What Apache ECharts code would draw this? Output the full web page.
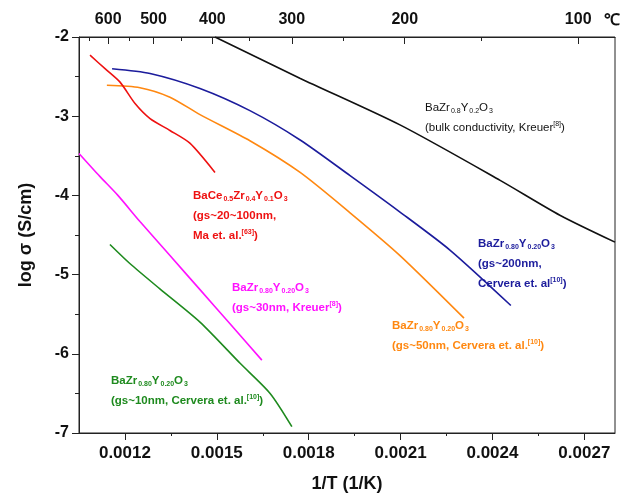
<!DOCTYPE html>
<html>
<head>
<meta charset="utf-8">
<script src="https://cdn.jsdelivr.net/npm/echarts@6/dist/echarts.min.js"></script>
<style>
  html, body { margin: 0; padding: 0; background: #fff; }
  #chart { width: 626px; height: 498px; }
</style>
</head>
<body>
<div id="chart"></div>
<script>
// x = 1/T (1/K), y = log sigma (S/cm)
const bulkKreuer = [[0.001494, -2.0], [0.001771, -2.52], [0.002098, -3.11], [0.002425, -3.81], [0.00262, -4.25], [0.0028, -4.59]];
const bzy200nm = [[0.001158, -2.40], [0.001282, -2.46], [0.001445, -2.65], [0.001608, -2.93], [0.001772, -3.30], [0.001935, -3.75], [0.002098, -4.21], [0.002261, -4.69], [0.00246, -5.39]];
const bzy50nm = [[0.001141, -2.61], [0.001249, -2.64], [0.001347, -2.76], [0.001445, -2.98], [0.001608, -3.31], [0.001772, -3.71], [0.001935, -4.22], [0.002098, -4.76], [0.002307, -5.55]];
const bczy = [[0.001086, -2.23], [0.001135, -2.40], [0.001184, -2.57], [0.001233, -2.84], [0.001282, -3.03], [0.001347, -3.18], [0.001412, -3.34], [0.001494, -3.71]];
const bzy30nm = [[0.00105, -3.47], [0.001118, -3.76], [0.001177, -4.0], [0.001249, -4.33], [0.001347, -4.76], [0.001445, -5.19], [0.001543, -5.62], [0.001647, -6.08]];
const bzy10nm = [[0.001151, -4.62], [0.001216, -4.86], [0.001314, -5.18], [0.001445, -5.60], [0.001576, -6.12], [0.001674, -6.50], [0.001745, -6.92]];

const xTicks = [0.0012, 0.0015, 0.0018, 0.0021, 0.0024, 0.0027];
const xMinorTicks = [0.00135, 0.00165, 0.00195, 0.00225, 0.00255];
const celsiusTicks = [600, 500, 400, 300, 200, 100];
const celsiusMinor = [650, 550, 450, 350, 250, 150];

const toInvK = c => 1 / (c + 273.15);

const FONT = 'Liberation Sans';

let myChart = echarts.init(document.getElementById('chart'));

// rich text for chemical formulas (graphic text uses fill)
function rich(color, bold) {
  let w = bold ? 'bold' : 'normal';
  return {
    n: { fontFamily: FONT, fontSize: 11.5, fontWeight: w, fill: color, lineHeight: 20 },
    s: { fontFamily: FONT, fontSize: 7, fontWeight: w, fill: color, padding: [8, 0, 0, 1], lineHeight: 20 },
    u: { fontFamily: FONT, fontSize: 7, fontWeight: w, fill: color, padding: [0, 0, 7, 0], lineHeight: 20 }
  };
}
function label(x, y, text, color, bold) {
  return {
    type: 'text', left: x, top: y, z: 100,
    style: { text: text, fill: color, rich: rich(color, bold) }
  };
}

const axisLineStyle = { color: '#222', width: 1 };
const tickFont = { fontFamily: FONT, fontSize: 16, fontWeight: 'bold', color: '#111' };

function curve(name, data, color) {
  return {
    name: name, type: 'line', data: data,
    smooth: 0.25, showSymbol: false,
    lineStyle: { color: color, width: 1.6 }
  };
}

myChart.setOption({
  animation: false,
  grid: {
    left: 79, right: 11, top: 37, bottom: 65,
    show: true, borderColor: '#222', borderWidth: 1
  },
  xAxis: [{
    type: 'value',
    min: 0.00105,
    max: 0.0028,
    position: 'bottom',
    name: '1/T (1/K)',
    nameLocation: 'middle',
    nameGap: 42,
    nameTextStyle: { fontFamily: FONT, fontSize: 18, fontWeight: 'bold', color: '#111' },
    axisLine: { show: true, lineStyle: axisLineStyle },
    axisTick: { show: true, length: 7, lineStyle: axisLineStyle, customValues: xTicks },
    axisLabel: {
      ...tickFont, fontSize: 17, margin: 12, customValues: xTicks,
      formatter: v => v.toFixed(4)
    },
    splitLine: { show: false }
  }, {
    type: 'value',
    min: 0.00105,
    max: 0.0028,
    position: 'bottom',
    axisLine: { show: false },
    axisTick: { show: true, length: 3, lineStyle: axisLineStyle, customValues: xMinorTicks },
    axisLabel: { show: false },
    splitLine: { show: false }
  }, {
    type: 'value',
    min: 0.00105,
    max: 0.0028,
    position: 'top',
    axisLine: { show: true, lineStyle: axisLineStyle },
    axisTick: { show: true, inside: true, length: 7, lineStyle: axisLineStyle, customValues: celsiusTicks.map(toInvK) },
    axisLabel: {
      ...tickFont, margin: 9, customValues: celsiusTicks.map(toInvK),
      formatter: v => String(Math.round(1 / v - 273.15))
    },
    splitLine: { show: false }
  }, {
    type: 'value',
    min: 0.00105,
    max: 0.0028,
    position: 'top',
    axisLine: { show: false },
    axisTick: { show: true, inside: true, length: 4, lineStyle: axisLineStyle, customValues: celsiusMinor.map(toInvK) },
    axisLabel: { show: false },
    splitLine: { show: false }
  }],
  yAxis: {
    type: 'value',
    min: -7,
    max: -2,
    interval: 1,
    name: 'log σ (S/cm)',
    nameLocation: 'middle',
    nameGap: 44,
    nameRotate: 90,
    nameTextStyle: { fontFamily: FONT, fontSize: 18, fontWeight: 'bold', color: '#111' },
    axisLine: { show: true, lineStyle: axisLineStyle },
    axisTick: { show: true, length: 7, lineStyle: axisLineStyle },
    minorTick: { show: true, splitNumber: 2, length: 4, lineStyle: axisLineStyle },
    axisLabel: { ...tickFont, margin: 10 },
    splitLine: { show: false }
  },
  graphic: [
    { type: 'text', left: 604, top: 13, style: { text: '℃', fontFamily: FONT, fontSize: 16, fontWeight: 'bold', fill: '#111' } },
    label(425, 100, '{n|BaZr}{s|0.8}{n|Y}{s|0.2}{n|O}{s|3}\n{n|(bulk conductivity, Kreuer}{u|[8]}{n|)}', '#111', false),
    label(193, 188, '{n|BaCe}{s|0.5}{n|Zr}{s|0.4}{n|Y}{s|0.1}{n|O}{s|3}\n{n|(gs~20~100nm,}\n{n|Ma et. al.}{u|[63]}{n|)}', '#ee1111', true),
    label(478, 236, '{n|BaZr}{s|0.80}{n|Y}{s|0.20}{n|O}{s|3}\n{n|(gs~200nm,}\n{n|Cervera et. al}{u|[10]}{n|)}', '#1c1c9c', true),
    label(232, 280, '{n|BaZr}{s|0.80}{n|Y}{s|0.20}{n|O}{s|3}\n{n|(gs~30nm, Kreuer}{u|[8]}{n|)}', '#ff11ff', true),
    label(392, 318, '{n|BaZr}{s|0.80}{n|Y}{s|0.20}{n|O}{s|3}\n{n|(gs~50nm, Cervera et. al.}{u|[10]}{n|)}', '#ff8811', true),
    label(111, 373, '{n|BaZr}{s|0.80}{n|Y}{s|0.20}{n|O}{s|3}\n{n|(gs~10nm, Cervera et. al.}{u|[10]}{n|)}', '#1e8a1e', true)
  ],
  series: [
    curve('bulk', bulkKreuer, '#111'),
    curve('200nm', bzy200nm, '#1c1c9c'),
    curve('50nm', bzy50nm, '#ff8811'),
    curve('BCZY', bczy, '#ee1111'),
    curve('30nm', bzy30nm, '#ff11ff'),
    curve('10nm', bzy10nm, '#1e8a1e')
  ]
});
window.onresize = myChart.resize;
</script>
</body>
</html>
